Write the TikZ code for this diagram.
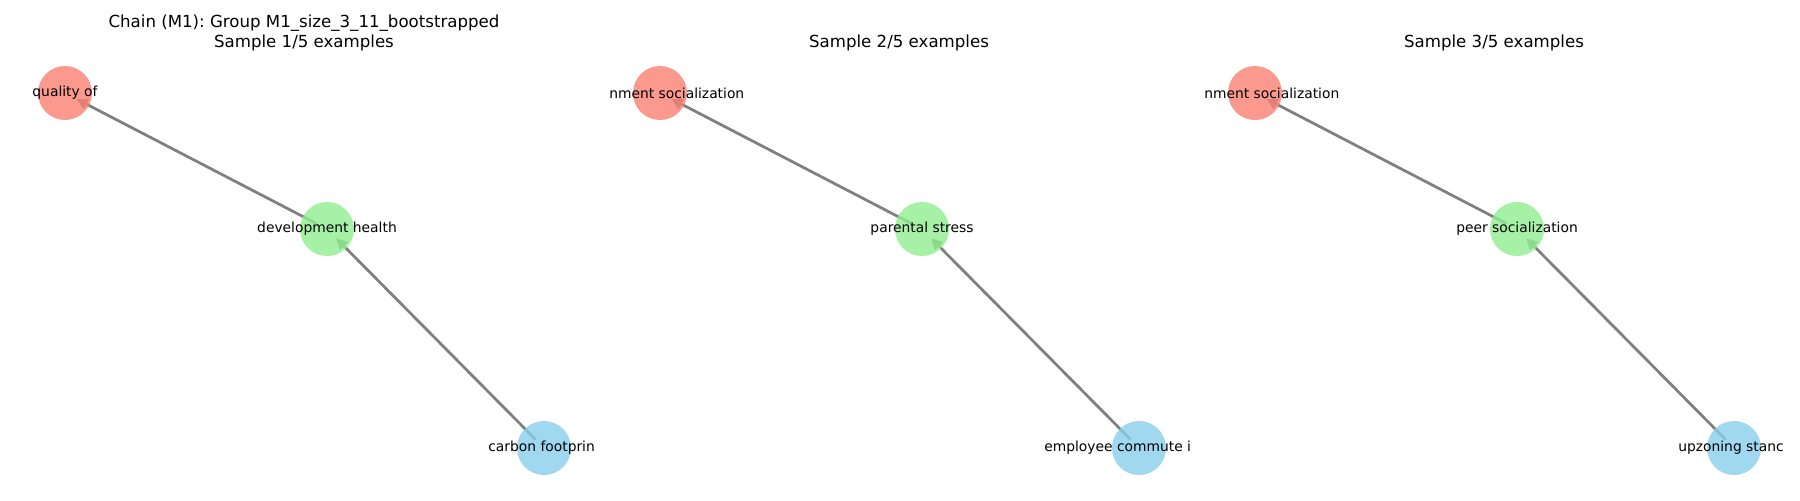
\documentclass[tikz,border=0pt]{standalone}
\usepackage{fontspec}
\setmainfont{DejaVu Sans}
\usetikzlibrary{arrows.meta}
\definecolor{cause}{RGB}{250,128,114}
\definecolor{mediator}{RGB}{144,238,144}
\definecolor{effect}{RGB}{135,206,235}
\frenchspacing

\begin{document}
\begin{tikzpicture}[x=0.01in, y=-0.01in,
    edge/.style={draw=gray, line width=2pt, -{Triangle[length=8pt,width=8pt]}, shorten <=8.6pt, shorten >=9.4pt},
    dot/.style={circle, minimum size=0.54in, inner sep=0pt, fill opacity=0.8},
    lbl/.style={font=\fontsize{10}{12}\selectfont, inner sep=0pt},
    ttl/.style={font=\fontsize{12}{14.4}\selectfont, align=center, inner sep=0pt}]
    \useasboundingbox (0,0) rectangle (1800,500);
    \coordinate (r1) at (65,93);
    \coordinate (g1) at (327,229);
    \coordinate (b1) at (544,448);
    \coordinate (r2) at (660,93);
    \coordinate (g2) at (922,229);
    \coordinate (b2) at (1139,448);
    \coordinate (r3) at (1255,93);
    \coordinate (g3) at (1517,229);
    \coordinate (b3) at (1734,448);
    \draw[edge] (b1) -- (g1);
    \draw[edge] (g1) -- (r1);
    \draw[edge] (b2) -- (g2);
    \draw[edge] (g2) -- (r2);
    \draw[edge] (b3) -- (g3);
    \draw[edge] (g3) -- (r3);
    \node[dot, fill=cause] (rdot1) at (r1) {};
    \node[dot, fill=mediator] (gdot1) at (g1) {};
    \node[dot, fill=effect] (bdot1) at (b1) {};
    \node[dot, fill=cause] (rdot2) at (r2) {};
    \node[dot, fill=mediator] (gdot2) at (g2) {};
    \node[dot, fill=effect] (bdot2) at (b2) {};
    \node[dot, fill=cause] (rdot3) at (r3) {};
    \node[dot, fill=mediator] (gdot3) at (g3) {};
    \node[dot, fill=effect] (bdot3) at (b3) {};
    \node[lbl] (rlbl1) at (r1) {quality of};
    \node[lbl] (glbl1) at (g1) {development health};
    \node[lbl, anchor=west] (blbl1) at (488,448) {carbon footprin};
    \node[lbl, anchor=west] (rlbl2) at (609,93) {nment socialization};
    \node[lbl] (glbl2) at (g2) {parental stress};
    \node[lbl, anchor=west] (blbl2) at (1044,448) {employee commute i};
    \node[lbl, anchor=west] (rlbl3) at (1204,93) {nment socialization};
    \node[lbl] (glbl3) at (g3) {peer socialization};
    \node[lbl, anchor=west] (blbl3) at (1678,448) {upzoning stanc};
    \node[ttl] (title1) at (304,33) {Chain (M1): Group M1\_size\_3\_11\_bootstrapped\\Sample 1/5 examples};
    \node[ttl] (title2) at (899,42.7) {Sample 2/5 examples};
    \node[ttl] (title3) at (1494,42.7) {Sample 3/5 examples};
\end{tikzpicture}
\end{document}
